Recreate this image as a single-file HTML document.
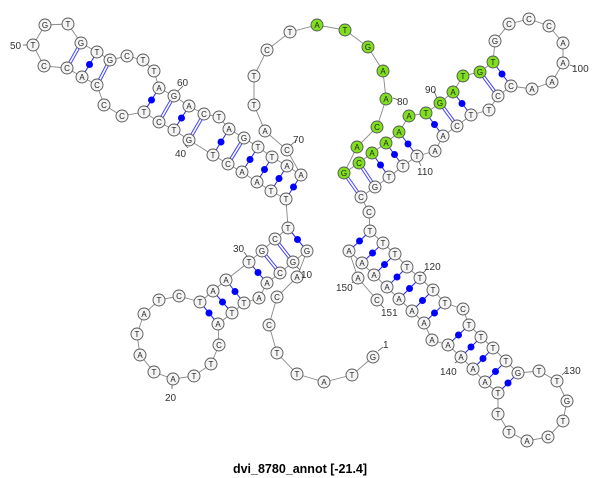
<!DOCTYPE html>
<html><head><meta charset="utf-8"><style>
html,body{margin:0;padding:0;background:#fff;}
svg{display:block;}
.n circle{fill:#f4f4f4;stroke:#555;stroke-width:0.9;}
.n circle.g{fill:#80e020;}
.t text{font-family:"Liberation Sans",sans-serif;font-size:8px;text-anchor:middle;fill:#222;}
.l text{font-family:"Liberation Sans",sans-serif;font-size:10px;fill:#333;}
</style></head><body>
<svg width="600" height="478" viewBox="0 0 600 478">
<polyline fill="none" stroke="#888" stroke-width="0.9" points="373,357 352,375 324,382 297,374 277,353 269,325 277,297 297,277 307,251 293,262 280,273 267,283 259,298 244,303 232,313 218,324 219,345 211,364 194,376 173,379 154,372 140,355 137,334 144,314 159,300 179,296 200,302 213,291 226,280 249,262 262,251 275,239 288,228 286,199 271,191 257,182 242,172 228,164 213,155 189,140 174,130 159,122 144,112 122,116 104,105 97,85 82,77 67,68 44,66 33,45 45,25 68,24 81,43 97,52 110,60 127,56 143,60 154,71 159,88 174,96 189,106 204,114 219,117 229,129 244,138 258,147 272,157 287,166 301,175 287,150 265,131 254,105 254,76 267,50 290,32 317,25 345,30 368,47 383,71 386,99 377,127 357,147 344,173 359,163 372,153 386,143 399,132 409,116 426,113 440,103 453,92 463,76 480,72 493,62 495,41 509,24 529,19 549,26 563,43 563,63 552,82 532,89 511,86 498,96 489,110 471,115 457,126 443,136 435,151 417,156 403,166 389,177 375,187 361,197 369,212 370,231 383,243 395,254 407,267 420,278 433,290 445,303 463,309 469,325 481,337 493,348 506,361 518,373 539,371 557,381 567,401 563,421 548,437 527,441 509,432 498,414 498,393 485,382 473,369 461,357 448,345 432,340 424,323 412,311 399,299 387,287 374,275 362,263 349,251 358,278 377,300"/>
<g stroke="#2222ff" stroke-width="1">
<line x1="159" y1="88" x2="144" y2="112"/><line x1="189" y1="106" x2="174" y2="130"/><line x1="229" y1="129" x2="213" y2="155"/><line x1="258" y1="147" x2="242" y2="172"/><line x1="272" y1="157" x2="257" y2="182"/><line x1="287" y1="166" x2="271" y2="191"/><line x1="301" y1="175" x2="286" y2="199"/><line x1="97" y1="52" x2="82" y2="77"/><line x1="307" y1="251" x2="288" y2="228"/><line x1="267" y1="283" x2="249" y2="262"/><line x1="244" y1="303" x2="226" y2="280"/><line x1="232" y1="313" x2="213" y2="291"/><line x1="218" y1="324" x2="200" y2="302"/><line x1="372" y1="153" x2="389" y2="177"/><line x1="386" y1="143" x2="403" y2="166"/><line x1="399" y1="132" x2="417" y2="156"/><line x1="426" y1="113" x2="443" y2="136"/><line x1="453" y1="92" x2="471" y2="115"/><line x1="493" y1="62" x2="511" y2="86"/><line x1="370" y1="231" x2="349" y2="251"/><line x1="383" y1="243" x2="362" y2="263"/><line x1="395" y1="254" x2="374" y2="275"/><line x1="407" y1="267" x2="387" y2="287"/><line x1="420" y1="278" x2="399" y2="299"/><line x1="433" y1="290" x2="412" y2="311"/><line x1="445" y1="303" x2="424" y2="323"/><line x1="469" y1="325" x2="448" y2="345"/><line x1="481" y1="337" x2="461" y2="357"/><line x1="493" y1="348" x2="473" y2="369"/><line x1="506" y1="361" x2="485" y2="382"/><line x1="518" y1="373" x2="498" y2="393"/>
</g>
<g id="dbl" stroke="#4444ff" stroke-width="3.6">
<line x1="174" y1="96" x2="159" y2="122"/><line x1="204" y1="114" x2="189" y2="140"/><line x1="244" y1="138" x2="228" y2="164"/><line x1="81" y1="43" x2="67" y2="68"/><line x1="110" y1="60" x2="97" y2="85"/><line x1="293" y1="262" x2="275" y2="239"/><line x1="280" y1="273" x2="262" y2="251"/><line x1="344" y1="173" x2="361" y2="197"/><line x1="359" y1="163" x2="375" y2="187"/><line x1="440" y1="103" x2="457" y2="126"/><line x1="480" y1="72" x2="498" y2="96"/>
</g>
<g stroke="#fff" stroke-width="1.6">
<line x1="174" y1="96" x2="159" y2="122"/><line x1="204" y1="114" x2="189" y2="140"/><line x1="244" y1="138" x2="228" y2="164"/><line x1="81" y1="43" x2="67" y2="68"/><line x1="110" y1="60" x2="97" y2="85"/><line x1="293" y1="262" x2="275" y2="239"/><line x1="280" y1="273" x2="262" y2="251"/><line x1="344" y1="173" x2="361" y2="197"/><line x1="359" y1="163" x2="375" y2="187"/><line x1="440" y1="103" x2="457" y2="126"/><line x1="480" y1="72" x2="498" y2="96"/>
</g>
<g fill="#0000ff">
<circle cx="151.5" cy="100" r="3.5"/><circle cx="181.5" cy="118" r="3.5"/><circle cx="221" cy="142" r="3.5"/><circle cx="250" cy="159.5" r="3.5"/><circle cx="264.5" cy="169.5" r="3.5"/><circle cx="279" cy="178.5" r="3.5"/><circle cx="293.5" cy="187" r="3.5"/><circle cx="89.5" cy="64.5" r="3.5"/><circle cx="297.5" cy="239.5" r="3.5"/><circle cx="258" cy="272.5" r="3.5"/><circle cx="235" cy="291.5" r="3.5"/><circle cx="222.5" cy="302" r="3.5"/><circle cx="209" cy="313" r="3.5"/><circle cx="380.5" cy="165" r="3.5"/><circle cx="394.5" cy="154.5" r="3.5"/><circle cx="408" cy="144" r="3.5"/><circle cx="434.5" cy="124.5" r="3.5"/><circle cx="462" cy="103.5" r="3.5"/><circle cx="502" cy="74" r="3.5"/><circle cx="359.5" cy="241" r="3.5"/><circle cx="372.5" cy="253" r="3.5"/><circle cx="384.5" cy="264.5" r="3.5"/><circle cx="397" cy="277" r="3.5"/><circle cx="409.5" cy="288.5" r="3.5"/><circle cx="422.5" cy="300.5" r="3.5"/><circle cx="434.5" cy="313" r="3.5"/><circle cx="458.5" cy="335" r="3.5"/><circle cx="471" cy="347" r="3.5"/><circle cx="483" cy="358.5" r="3.5"/><circle cx="495.5" cy="371.5" r="3.5"/><circle cx="508" cy="383" r="3.5"/>
</g>
<g stroke="#555" stroke-width="0.8">
<line x1="23" y1="45" x2="27" y2="45"/><line x1="178" y1="91" x2="183" y2="86"/><line x1="185" y1="145" x2="188" y2="148"/><line x1="291" y1="145" x2="297" y2="140"/><line x1="393" y1="98" x2="399" y2="100"/><line x1="434" y1="91" x2="437" y2="98"/><line x1="570" y1="65" x2="575" y2="67"/><line x1="419" y1="162" x2="421" y2="166"/><line x1="244" y1="252" x2="247" y2="256"/><line x1="297" y1="267" x2="300" y2="270"/><line x1="172" y1="385" x2="172" y2="389"/><line x1="378" y1="351" x2="383" y2="347"/><line x1="352" y1="283" x2="354" y2="281"/><line x1="381" y1="305" x2="384" y2="308"/><line x1="423" y1="273" x2="427" y2="269"/><line x1="562" y1="375" x2="566" y2="371"/><line x1="455" y1="363" x2="458" y2="361"/>
</g>
<g class="n">
<circle cx="373" cy="357" r="6"/><circle cx="352" cy="375" r="6"/><circle cx="324" cy="382" r="6"/><circle cx="297" cy="374" r="6"/><circle cx="277" cy="353" r="6"/><circle cx="269" cy="325" r="6"/><circle cx="277" cy="297" r="6"/><circle cx="297" cy="277" r="6"/><circle cx="307" cy="251" r="6"/><circle cx="293" cy="262" r="6"/><circle cx="280" cy="273" r="6"/><circle cx="267" cy="283" r="6"/><circle cx="259" cy="298" r="6"/><circle cx="244" cy="303" r="6"/><circle cx="232" cy="313" r="6"/><circle cx="218" cy="324" r="6"/><circle cx="219" cy="345" r="6"/><circle cx="211" cy="364" r="6"/><circle cx="194" cy="376" r="6"/><circle cx="173" cy="379" r="6"/><circle cx="154" cy="372" r="6"/><circle cx="140" cy="355" r="6"/><circle cx="137" cy="334" r="6"/><circle cx="144" cy="314" r="6"/><circle cx="159" cy="300" r="6"/><circle cx="179" cy="296" r="6"/><circle cx="200" cy="302" r="6"/><circle cx="213" cy="291" r="6"/><circle cx="226" cy="280" r="6"/><circle cx="249" cy="262" r="6"/><circle cx="262" cy="251" r="6"/><circle cx="275" cy="239" r="6"/><circle cx="288" cy="228" r="6"/><circle cx="286" cy="199" r="6"/><circle cx="271" cy="191" r="6"/><circle cx="257" cy="182" r="6"/><circle cx="242" cy="172" r="6"/><circle cx="228" cy="164" r="6"/><circle cx="213" cy="155" r="6"/><circle cx="189" cy="140" r="6"/><circle cx="174" cy="130" r="6"/><circle cx="159" cy="122" r="6"/><circle cx="144" cy="112" r="6"/><circle cx="122" cy="116" r="6"/><circle cx="104" cy="105" r="6"/><circle cx="97" cy="85" r="6"/><circle cx="82" cy="77" r="6"/><circle cx="67" cy="68" r="6"/><circle cx="44" cy="66" r="6"/><circle cx="33" cy="45" r="6"/><circle cx="45" cy="25" r="6"/><circle cx="68" cy="24" r="6"/><circle cx="81" cy="43" r="6"/><circle cx="97" cy="52" r="6"/><circle cx="110" cy="60" r="6"/><circle cx="127" cy="56" r="6"/><circle cx="143" cy="60" r="6"/><circle cx="154" cy="71" r="6"/><circle cx="159" cy="88" r="6"/><circle cx="174" cy="96" r="6"/><circle cx="189" cy="106" r="6"/><circle cx="204" cy="114" r="6"/><circle cx="219" cy="117" r="6"/><circle cx="229" cy="129" r="6"/><circle cx="244" cy="138" r="6"/><circle cx="258" cy="147" r="6"/><circle cx="272" cy="157" r="6"/><circle cx="287" cy="166" r="6"/><circle cx="301" cy="175" r="6"/><circle cx="287" cy="150" r="6"/><circle cx="265" cy="131" r="6"/><circle cx="254" cy="105" r="6"/><circle cx="254" cy="76" r="6"/><circle cx="267" cy="50" r="6"/><circle cx="290" cy="32" r="6"/>
<circle class="g" cx="317" cy="25" r="6"/><circle class="g" cx="345" cy="30" r="6"/><circle class="g" cx="368" cy="47" r="6"/><circle class="g" cx="383" cy="71" r="6"/><circle class="g" cx="386" cy="99" r="6"/><circle class="g" cx="377" cy="127" r="6"/><circle class="g" cx="357" cy="147" r="6"/><circle class="g" cx="344" cy="173" r="6"/><circle class="g" cx="359" cy="163" r="6"/><circle class="g" cx="372" cy="153" r="6"/><circle class="g" cx="386" cy="143" r="6"/><circle class="g" cx="399" cy="132" r="6"/><circle class="g" cx="409" cy="116" r="6"/><circle class="g" cx="426" cy="113" r="6"/><circle class="g" cx="440" cy="103" r="6"/><circle class="g" cx="453" cy="92" r="6"/><circle class="g" cx="463" cy="76" r="6"/><circle class="g" cx="480" cy="72" r="6"/><circle class="g" cx="493" cy="62" r="6"/>
<circle cx="495" cy="41" r="6"/><circle cx="509" cy="24" r="6"/><circle cx="529" cy="19" r="6"/><circle cx="549" cy="26" r="6"/><circle cx="563" cy="43" r="6"/><circle cx="563" cy="63" r="6"/><circle cx="552" cy="82" r="6"/><circle cx="532" cy="89" r="6"/><circle cx="511" cy="86" r="6"/><circle cx="498" cy="96" r="6"/><circle cx="489" cy="110" r="6"/><circle cx="471" cy="115" r="6"/><circle cx="457" cy="126" r="6"/><circle cx="443" cy="136" r="6"/><circle cx="435" cy="151" r="6"/><circle cx="417" cy="156" r="6"/><circle cx="403" cy="166" r="6"/><circle cx="389" cy="177" r="6"/><circle cx="375" cy="187" r="6"/><circle cx="361" cy="197" r="6"/><circle cx="369" cy="212" r="6"/><circle cx="370" cy="231" r="6"/><circle cx="383" cy="243" r="6"/><circle cx="395" cy="254" r="6"/><circle cx="407" cy="267" r="6"/><circle cx="420" cy="278" r="6"/><circle cx="433" cy="290" r="6"/><circle cx="445" cy="303" r="6"/><circle cx="463" cy="309" r="6"/><circle cx="469" cy="325" r="6"/><circle cx="481" cy="337" r="6"/><circle cx="493" cy="348" r="6"/><circle cx="506" cy="361" r="6"/><circle cx="518" cy="373" r="6"/><circle cx="539" cy="371" r="6"/><circle cx="557" cy="381" r="6"/><circle cx="567" cy="401" r="6"/><circle cx="563" cy="421" r="6"/><circle cx="548" cy="437" r="6"/><circle cx="527" cy="441" r="6"/><circle cx="509" cy="432" r="6"/><circle cx="498" cy="414" r="6"/><circle cx="498" cy="393" r="6"/><circle cx="485" cy="382" r="6"/><circle cx="473" cy="369" r="6"/><circle cx="461" cy="357" r="6"/><circle cx="448" cy="345" r="6"/><circle cx="432" cy="340" r="6"/><circle cx="424" cy="323" r="6"/><circle cx="412" cy="311" r="6"/><circle cx="399" cy="299" r="6"/><circle cx="387" cy="287" r="6"/><circle cx="374" cy="275" r="6"/><circle cx="362" cy="263" r="6"/><circle cx="349" cy="251" r="6"/><circle cx="358" cy="278" r="6"/><circle cx="377" cy="300" r="6"/>
</g>
<g class="t">
<text x="373" y="360">G</text><text x="352" y="378">T</text><text x="324" y="385">A</text><text x="297" y="377">T</text><text x="277" y="356">T</text><text x="269" y="328">C</text><text x="277" y="300">C</text><text x="297" y="280">A</text><text x="307" y="254">G</text><text x="293" y="265">G</text><text x="280" y="276">C</text><text x="267" y="286">A</text><text x="259" y="301">A</text><text x="244" y="306">T</text><text x="232" y="316">T</text><text x="218" y="327">A</text><text x="219" y="348">C</text><text x="211" y="367">T</text><text x="194" y="379">T</text><text x="173" y="382">A</text><text x="154" y="375">T</text><text x="140" y="358">A</text><text x="137" y="337">T</text><text x="144" y="317">A</text><text x="159" y="303">T</text><text x="179" y="299">C</text><text x="200" y="305">T</text><text x="213" y="294">A</text><text x="226" y="283">A</text><text x="249" y="265">T</text><text x="262" y="254">G</text><text x="275" y="242">C</text><text x="288" y="231">T</text><text x="286" y="202">T</text><text x="271" y="194">T</text><text x="257" y="185">A</text><text x="242" y="175">A</text><text x="228" y="167">C</text><text x="213" y="158">T</text><text x="189" y="143">G</text><text x="174" y="133">T</text><text x="159" y="125">C</text><text x="144" y="115">T</text><text x="122" y="119">C</text><text x="104" y="108">C</text><text x="97" y="88">C</text><text x="82" y="80">A</text><text x="67" y="71">C</text><text x="44" y="69">C</text><text x="33" y="48">T</text><text x="45" y="28">G</text><text x="68" y="27">T</text><text x="81" y="46">G</text><text x="97" y="55">T</text><text x="110" y="63">G</text><text x="127" y="59">C</text><text x="143" y="63">T</text><text x="154" y="74">T</text><text x="159" y="91">A</text><text x="174" y="99">G</text><text x="189" y="109">A</text><text x="204" y="117">C</text><text x="219" y="120">T</text><text x="229" y="132">A</text><text x="244" y="141">G</text><text x="258" y="150">T</text><text x="272" y="160">T</text><text x="287" y="169">A</text><text x="301" y="178">A</text><text x="287" y="153">C</text><text x="265" y="134">A</text><text x="254" y="108">T</text><text x="254" y="79">T</text><text x="267" y="53">C</text><text x="290" y="35">T</text><text x="317" y="28">A</text><text x="345" y="33">T</text><text x="368" y="50">G</text><text x="383" y="74">A</text><text x="386" y="102">A</text><text x="377" y="130">C</text><text x="357" y="150">A</text><text x="344" y="176">G</text><text x="359" y="166">C</text><text x="372" y="156">A</text><text x="386" y="146">A</text><text x="399" y="135">A</text><text x="409" y="119">A</text><text x="426" y="116">T</text><text x="440" y="106">G</text><text x="453" y="95">A</text><text x="463" y="79">T</text><text x="480" y="75">G</text><text x="493" y="65">T</text><text x="495" y="44">G</text><text x="509" y="27">C</text><text x="529" y="22">C</text><text x="549" y="29">C</text><text x="563" y="46">A</text><text x="563" y="66">A</text><text x="552" y="85">A</text><text x="532" y="92">A</text><text x="511" y="89">C</text><text x="498" y="99">C</text><text x="489" y="113">T</text><text x="471" y="118">T</text><text x="457" y="129">C</text><text x="443" y="139">A</text><text x="435" y="154">A</text><text x="417" y="159">T</text><text x="403" y="169">T</text><text x="389" y="180">T</text><text x="375" y="190">G</text><text x="361" y="200">C</text><text x="369" y="215">C</text><text x="370" y="234">T</text><text x="383" y="246">T</text><text x="395" y="257">T</text><text x="407" y="270">T</text><text x="420" y="281">T</text><text x="433" y="293">T</text><text x="445" y="306">T</text><text x="463" y="312">C</text><text x="469" y="328">T</text><text x="481" y="340">T</text><text x="493" y="351">T</text><text x="506" y="364">T</text><text x="518" y="376">G</text><text x="539" y="374">T</text><text x="557" y="384">T</text><text x="567" y="404">G</text><text x="563" y="424">T</text><text x="548" y="440">C</text><text x="527" y="444">A</text><text x="509" y="435">T</text><text x="498" y="417">T</text><text x="498" y="396">T</text><text x="485" y="385">A</text><text x="473" y="372">A</text><text x="461" y="360">A</text><text x="448" y="348">A</text><text x="432" y="343">A</text><text x="424" y="326">A</text><text x="412" y="314">A</text><text x="399" y="302">A</text><text x="387" y="290">A</text><text x="374" y="278">A</text><text x="362" y="266">A</text><text x="349" y="254">A</text><text x="358" y="281">A</text><text x="377" y="303">C</text>
</g>
<g class="l">
<text x="10" y="49">50</text><text x="177" y="86">60</text><text x="175" y="157">40</text><text x="293" y="143">70</text><text x="397" y="105">80</text><text x="425" y="93">90</text><text x="572" y="72">100</text><text x="417" y="175">110</text><text x="233" y="252">30</text><text x="301" y="278">10</text><text x="165" y="401">20</text><text x="383" y="348">1</text><text x="336" y="291">150</text><text x="381" y="316">151</text><text x="424" y="270">120</text><text x="564" y="374">130</text><text x="440" y="375">140</text>
</g>
<text x="300" y="473" text-anchor="middle" font-family="Liberation Sans, sans-serif" font-size="12.5" font-weight="bold" fill="#000">dvi_8780_annot [-21.4]</text>
</svg>
</body></html>
